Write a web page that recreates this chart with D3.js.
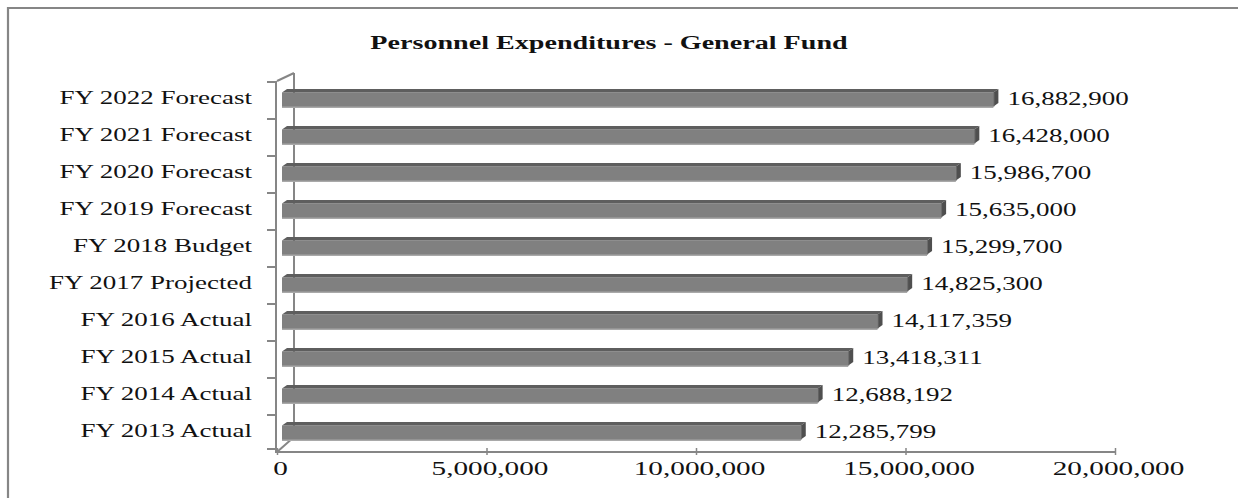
<!DOCTYPE html>
<html>
<head>
<meta charset="utf-8">
<script src="https://cdn.jsdelivr.net/npm/d3@7/dist/d3.min.js"></script>
<style>
  html, body { margin: 0; padding: 0; background: #fff; overflow: hidden; }
  svg { display: block; }
  text { font-family: "Times New Roman", "Liberation Serif", serif; fill: #111; }
</style>
</head>
<body>
<svg id="chart" width="1238" height="498"></svg>
<script>
// Personnel expenditures, General Fund (dollars), bottom row first
const categories = [
  "FY 2013 Actual", "FY 2014 Actual", "FY 2015 Actual", "FY 2016 Actual",
  "FY 2017 Projected", "FY 2018 Budget", "FY 2019 Forecast", "FY 2020 Forecast",
  "FY 2021 Forecast", "FY 2022 Forecast"
];
const expenditures = [
  12285799, 12688192, 13418311, 14117359,
  14825300, 15299700, 15635000, 15986700,
  16428000, 16882900
];
const xTickValues = [0, 5000000, 10000000, 15000000, 20000000];
const chartTitle = "Personnel Expenditures - General Fund";

const svg = d3.select("#chart");
const W = 1238, H = 498;
const STRETCH = 1.5;             // wide type used throughout the chart
const AXIS = "#868686";

// outer chart frame: only the top and left edges fall inside the page
svg.append("path")
  .attr("d", `M8,${H}V8H${W}`)
  .attr("fill", "none").attr("stroke", AXIS).attr("stroke-width", 2.2);

// front plane of the plot
const x = d3.scaleLinear().domain([0, 20000000]).range([277, 1115]);
const y = d3.scaleBand().domain(categories.slice().reverse()).range([81, 451]).padding(0);

// depth of the side wall and of each bar
const wall = { dx: 16, dy: -8 };
const barShift = { dx: 9, dy: -8 };   // bar front face offset from the front plane
const barDepth = { dx: 5, dy: -3.5 };
const barH = 14;

// title
svg.append("text")
  .attr("transform", `translate(609,49) scale(${STRETCH - 0.02},1)`)
  .attr("text-anchor", "middle")
  .style("font-size", "19px").style("font-weight", "bold")
  .text(chartTitle);

// side wall: back edge and the two depth diagonals
const wallG = svg.append("g").attr("stroke", AXIS).attr("fill", "none");
const x0 = x(0), yTop = y.range()[0], yBot = y.range()[1];
wallG.append("line").attr("x1", x0 + wall.dx + 1).attr("y1", yTop + wall.dy)
  .attr("x2", x0 + wall.dx + 1).attr("y2", yBot - 14).attr("stroke-width", 2);
wallG.append("line").attr("x1", x0).attr("y1", yTop)
  .attr("x2", x0 + wall.dx + 1).attr("y2", yTop + wall.dy).attr("stroke-width", 2);
wallG.append("line").attr("x1", x0).attr("y1", yBot + 1)
  .attr("x2", x0 + wall.dx + 1).attr("y2", yBot - 14).attr("stroke-width", 2);

// bars drawn as shaded boxes
const bars = svg.append("g").selectAll("g.bar")
  .data(categories.map((c, i) => ({ c, v: expenditures[i] })))
  .join("g").attr("class", "bar");

bars.each(function (d) {
  const g = d3.select(this);
  const xs = x(0) + 5;
  const xe = x(d.v) + barShift.dx;
  const yf = y(d.c) + y.bandwidth() / 2 + barShift.dy + 1;
  const ddx = barDepth.dx, ddy = barDepth.dy;
  // lighter underside strip
  g.append("rect").attr("x", xs).attr("y", yf + barH - 1)
    .attr("width", xe - xs).attr("height", 2.5).attr("fill", "#a9a9a9");
  // front face
  g.append("rect").attr("x", xs).attr("y", yf)
    .attr("width", xe - xs).attr("height", barH).attr("fill", "#808080");
  // top face
  g.append("polygon")
    .attr("points", [[xs, yf], [xe, yf], [xe + ddx, yf + ddy], [xs + ddx, yf + ddy]].map(p => p.join(",")).join(" "))
    .attr("fill", "#5e5e5e");
  // end face
  g.append("polygon")
    .attr("points", [[xe, yf], [xe + ddx, yf + ddy], [xe + ddx, yf + barH + ddy], [xe, yf + barH]].map(p => p.join(",")).join(" "))
    .attr("fill", "#4f4f4f");
  g.append("line").attr("x1", xe + 0.5).attr("y1", yf).attr("x2", xe + 0.5).attr("y2", yf + barH)
    .attr("stroke", "#6e6e6e").attr("stroke-width", 1);
  // value label
  g.append("text")
    .attr("transform", `translate(${xe + ddx + 9},${yf + barH / 2 + 5.5}) scale(${STRETCH},1)`)
    .style("font-size", "18px")
    .text(d3.format(",")(d.v));
});

// left (category) axis line and boundary ticks
const leftG = svg.append("g").attr("stroke", AXIS).attr("stroke-width", 2);
leftG.append("line").attr("x1", x0 - 1).attr("y1", yTop).attr("x2", x0 - 1).attr("y2", yBot + 2);
const bounds = categories.map(c => y(c)).concat([yBot - 3]);
leftG.selectAll("line.tick").data(bounds).join("line").attr("class", "tick")
  .attr("x1", x0 - 10).attr("x2", x0 - 1)
  .attr("y1", d => d + 1).attr("y2", d => d + 1);

// category labels
svg.append("g").selectAll("text.cat").data(categories).join("text").attr("class", "cat")
  .attr("transform", d => `translate(252,${y(d) + y.bandwidth() / 2 + 4}) scale(${STRETCH},1)`)
  .attr("text-anchor", "end")
  .style("font-size", "18px")
  .text(d => d);

// value axis along the bottom
const xAxis = d3.axisBottom(x).tickValues(xTickValues).tickSize(4).tickPadding(10)
  .tickFormat(d3.format(","));
const axisG = svg.append("g").attr("transform", `translate(0,${yBot + 1})`).call(xAxis);
axisG.select(".domain").attr("stroke", AXIS).attr("stroke-width", 2.2)
  .attr("d", `M${x0 - 1},0H${x(20000000)}`);
axisG.selectAll(".tick line").attr("stroke", AXIS).attr("stroke-width", 1.5).attr("y1", -4).attr("y2", 3);
axisG.selectAll(".tick text")
  .attr("fill", "#111")
  .attr("y", 9)
  .attr("transform", `translate(3,0) scale(${STRETCH},1)`)
  .style("font-size", "19.5px")
  .style("font-family", "'Times New Roman','Liberation Serif',serif");
</script>
</body>
</html>
